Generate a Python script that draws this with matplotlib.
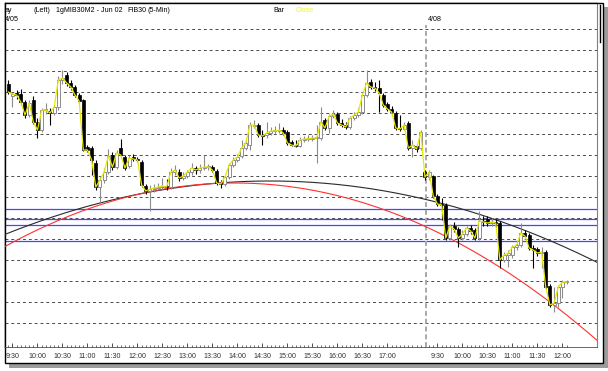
import numpy as np
import pandas as pd
import matplotlib
matplotlib.use("Agg")
import matplotlib.pyplot as plt
from matplotlib.patches import Rectangle
from matplotlib.lines import Line2D

plt.rcParams["font.family"] = ["Liberation Sans", "DejaVu Sans"]

# 5-min bars of 1gMIB30M2 (FIB30 Jun 02), session of 4/05 and morning of 4/08
day1_times = pd.date_range("2002-04-05 09:25", "2002-04-05 17:40", freq="5min")
day2_times = pd.date_range("2002-04-08 09:15", "2002-04-08 12:05", freq="5min")

# prices in chart units (no price scale is shown on the picture)
opens = [316, 304, 307, 306, 298, 285, 300, 278, 270, 290,
         289, 287, 293, 320, 325, 317, 313, 305, 300, 253,
         252, 237, 213, 220, 228, 245, 233, 252, 243, 234,
         243, 241, 238, 214, 209, 211, 212, 213, 214, 213,
         228, 228, 222, 224, 228, 232, 230, 232, 233, 233,
         229, 217, 216, 223, 235, 240, 244, 252, 255, 274,
         275, 265, 265, 267, 269, 269, 270, 268, 258, 255,
         254, 260, 261, 261, 262, 262, 280, 272, 284, 286,
         277, 275, 273, 282, 285, 288, 305, 318, 313, 312,
         305, 296, 291, 287, 272, 271, 277, 252, 254, 252,
         228, 223, 224, 204, 196, 195, 162, 174, 171, 162,
         166, 172, 170, 162, 179, 181, 177, 178, 177, 140,
         145, 145, 153, 155, 167, 165, 152, 151, 147, 148,
         114, 95, 97, 113, 118]
highs = [320, 308, 310, 311, 300, 300, 304, 282, 292, 297,
         292, 295, 324, 330, 328, 320, 315, 307, 301, 255,
         254, 240, 224, 232, 251, 248, 250, 261, 245, 245,
         246, 243, 240, 216, 215, 216, 217, 222, 221, 232,
         235, 231, 228, 230, 237, 234, 236, 245, 236, 235,
         231, 220, 225, 237, 243, 246, 260, 260, 278, 280,
         277, 270, 278, 273, 274, 277, 273, 270, 260, 260,
         263, 264, 265, 265, 275, 293, 282, 286, 290, 288,
         281, 278, 284, 288, 292, 307, 330, 321, 318, 320,
         307, 298, 294, 289, 285, 278, 279, 260, 256, 270,
         230, 230, 225, 206, 202, 197, 176, 178, 173, 170,
         174, 175, 172, 189, 184, 184, 182, 181, 179, 148,
         150, 155, 157, 177, 170, 167, 155, 153, 153, 150,
         116, 113, 115, 120, 120]
lows = [306, 293, 301, 295, 282, 283, 276, 262, 268, 286,
        275, 285, 290, 316, 314, 310, 303, 296, 249, 248,
        225, 210, 197, 217, 226, 230, 231, 243, 230, 232,
        239, 238, 213, 206, 189, 208, 210, 211, 210, 211,
        225, 219, 220, 222, 225, 226, 227, 230, 230, 228,
        215, 212, 214, 221, 233, 238, 242, 250, 250, 272,
        263, 255, 262, 265, 266, 267, 265, 255, 254, 253,
        253, 258, 259, 259, 237, 260, 270, 267, 282, 275,
        273, 271, 271, 280, 283, 286, 303, 311, 309, 288,
        293, 289, 286, 270, 269, 270, 250, 243, 248, 250,
        220, 220, 202, 194, 180, 160, 160, 168, 153, 160,
        164, 166, 160, 160, 174, 174, 174, 172, 132, 138,
        133, 142, 150, 153, 162, 150, 132, 144, 132, 111,
        93, 88, 93, 102, 116]
closes = [308, 306, 305, 298, 285, 297, 278, 270, 290, 290,
          287, 293, 320, 322, 317, 313, 305, 299, 250, 250,
          240, 213, 220, 228, 244, 233, 247, 245, 232, 242,
          241, 240, 215, 209, 211, 212, 213, 214, 213, 228,
          230, 222, 224, 228, 232, 230, 232, 233, 233, 230,
          217, 216, 223, 235, 240, 243, 252, 257, 275, 275,
          265, 264, 267, 269, 269, 270, 267, 257, 255, 254,
          260, 261, 261, 262, 262, 278, 272, 284, 286, 277,
          275, 273, 282, 285, 288, 305, 317, 313, 312, 307,
          295, 291, 288, 272, 271, 275, 252, 255, 251, 268,
          223, 228, 204, 196, 195, 162, 174, 171, 162, 166,
          172, 169, 162, 179, 178, 177, 178, 177, 140, 145,
          147, 153, 155, 167, 164, 152, 150, 147, 148, 113,
          95, 97, 113, 118, 118]

grid_levels = [371, 350, 329, 308, 287, 266, 245, 224, 203, 182, 161, 140, 119, 98, 77]
blue_levels = [191, 181, 175, 159]

# arc drawing tools: three anchor points each (bar index, price)
black_arc_x = [-0.8, 62.8, 141.3]
black_arc_y = [165.6, 219.0, 137.7]
red_arc_x = [-0.8, 54.4, 141.3]
red_arc_y = [153.5, 217.0, 59.7]

day1_labels = ["9:30", "10:00", "10:30", "11:00", "11:30", "12:00", "12:30", "13:00",
               "13:30", "14:00", "14:30", "15:00", "15:30", "16:00", "16:30", "17:00"]
day2_labels = ["9:30", "10:00", "10:30", "11:00", "11:30", "12:00"]

W, H = 608, 371
fig = plt.figure(figsize=(W / 100, H / 100), dpi=100)


def fx(px):
    return px / W


def fy(py):
    return 1 - py / H


# frame with drop shadow
fig.patches.append(Rectangle((fx(9), fy(368)), fx(599), 361 / H, transform=fig.transFigure,
                             facecolor="#9c9c9c", edgecolor="none", zorder=-3))
fig.patches.append(Rectangle((fx(5), fy(363)), fx(598), 360 / H, transform=fig.transFigure,
                             facecolor="white", edgecolor="black", lw=1.0, zorder=-2))
fig.add_artist(Line2D([fx(600), fx(600)], [fy(5), fy(42)], color="black", lw=1.0))

ax = fig.add_axes([fx(5), fy(347), fx(592), 344 / H])
ax.set_facecolor("white")

x = np.arange(len(closes))
o = np.array(opens)
h = np.array(highs)
l = np.array(lows)
c = np.array(closes)
up = c >= o

for lvl in grid_levels:
    ax.axhline(lvl, color="#4a4a4a", lw=0.7, linestyle=(0, (3, 3)), zorder=1)
for lvl in blue_levels:
    ax.axhline(lvl, color="#4646ff", lw=0.9, zorder=2)

split = len(day1_times)
ax.plot([split + 0.2, split + 0.2], [53, 375], color="#a8a8a8", lw=1.4,
        linestyle=(0, (2.5, 1.5)), zorder=2)

xs = np.linspace(black_arc_x[0], black_arc_x[-1], 400)
ax.plot(xs, np.polyval(np.polyfit(black_arc_x, black_arc_y, 2), xs), color="#2a2a2a", lw=0.8, zorder=3)
ax.plot(xs, np.polyval(np.polyfit(red_arc_x, red_arc_y, 2), xs), color="#ff3030", lw=0.8, zorder=3)

# candles
ax.vlines(x[up], l[up], h[up], color="#8c8c8c", lw=0.8, zorder=4)
ax.vlines(x[~up], l[~up], h[~up], color="black", lw=0.8, zorder=4)
body_lo = np.minimum(o, c)
body_h = np.maximum(np.abs(c - o), 0.8)
ax.bar(x[up], body_h[up], bottom=body_lo[up], width=0.72, color="white",
       edgecolor="#8c8c8c", linewidth=0.7, zorder=5)
ax.bar(x[~up], body_h[~up], bottom=body_lo[~up], width=0.72, color="black",
       edgecolor="black", linewidth=0.5, zorder=5)
ax.plot(x, c, color="#e8e800", lw=0.9, zorder=6)

ax.set_xlim(-0.8, 141.3)
ax.set_ylim(53, 397)

# time axis
fmt = [f"{t.hour}:{t.minute:02d}" for t in day1_times]
fmt2 = [f"{t.hour}:{t.minute:02d}" for t in day2_times]
tick_pos = [fmt.index(s) for s in day1_labels] + [split + fmt2.index(s) for s in day2_labels]
ax.set_xticks(tick_pos)
ax.set_xticklabels(day1_labels + day2_labels, fontsize=5.1)
ax.set_xticks(x, minor=True)
ax.tick_params(axis="x", which="major", direction="in", length=3, width=0.6, pad=4.5, colors="#303030")
ax.tick_params(axis="x", which="minor", direction="in", length=1.8, width=0.5, colors="#303030")
ax.set_yticks([])

for side in ["left", "top"]:
    ax.spines[side].set_color("black")
    ax.spines[side].set_linewidth(1.0)
ax.spines["right"].set_color("#808080")
ax.spines["right"].set_linewidth(0.8)
ax.spines["bottom"].set_color("#505050")
ax.spines["bottom"].set_linewidth(0.6)

# header texts
fs = 5.1
fig.text(fx(5), fy(11), "ay", fontsize=fs, va="center")
fig.text(fx(5), fy(19.5), "4/05", fontsize=fs, va="center")
fig.text(fx(33), fy(11), "(Left)", fontsize=fs, va="center")
fig.text(fx(56), fy(11), "1gMIB30M2 - Jun 02", fontsize=fs, va="center")
fig.text(fx(127), fy(11), "FIB30", fontsize=fs, va="center")
fig.text(fx(148), fy(11), "(5-Min)", fontsize=fs, va="center")
fig.text(fx(273), fy(11), "Bar", fontsize=fs, va="center")
fig.text(fx(296), fy(11), "Close", fontsize=fs, va="center", color="#f0f030")
fig.text(fx(428), fy(19.5), "4/08", fontsize=fs, va="center")

fig.savefig("out.png", dpi=100, facecolor="white")
